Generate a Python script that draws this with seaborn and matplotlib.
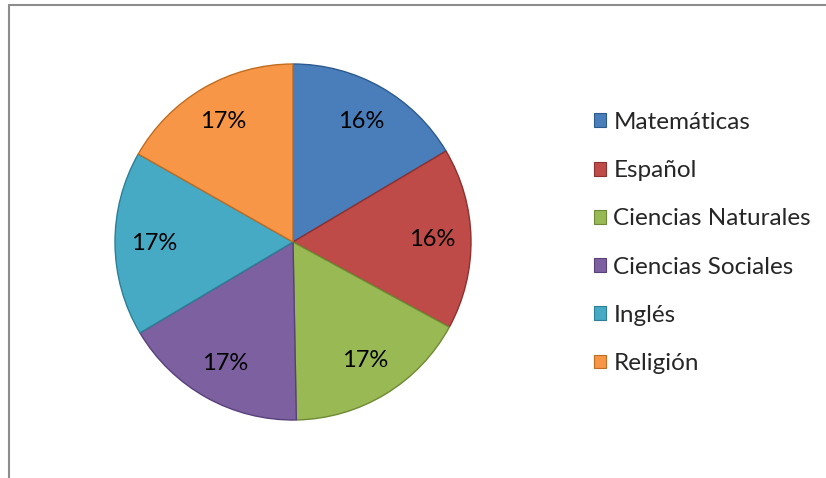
import matplotlib
matplotlib.use("Agg")
import matplotlib.pyplot as plt
from matplotlib.patches import Patch
from matplotlib.lines import Line2D
import seaborn as sns

materias = ["Matemáticas", "Español", "Ciencias Naturales",
            "Ciencias Sociales", "Inglés", "Religión"]
valores = [98.8, 98.8, 100.6, 100.6, 100.6, 100.6]
colores = ["#4A7EBB", "#BE4B48", "#98B954", "#7D60A0", "#46AAC5", "#F79646"]
bordes = ["#2C5A8E", "#8E302E", "#6F8A35", "#58417A", "#2C7F96", "#C06D22"]

sns.set_theme(style="white")
plt.rcParams['font.family'] = ['Lato', 'DejaVu Sans']

fig = plt.figure(figsize=(8.26, 4.78), dpi=100)
W, H = 826, 478
cx, cy, r = 293, 242, 178
ax = fig.add_axes([(cx - r) / W, (H - cy - r) / H, 2 * r / W, 2 * r / H])

wedges, texts, autotexts = ax.pie(valores, colors=colores, startangle=90,
                                  counterclock=False, autopct='%1.0f%%',
                                  pctdistance=0.78, radius=1.0,
                                  wedgeprops=dict(linewidth=1.0))
for w, b in zip(wedges, bordes):
    w.set_edgecolor(b)
for t in autotexts:
    t.set_fontsize(17)
    t.set_color("black")
ax.set_aspect("equal")
ax.set_xlim(-1.0, 1.0)
ax.set_ylim(-1.0, 1.0)
ax.axis("off")

# frame of the chart area (only top and left are visible)
fig.add_artist(Line2D([9 / W, 9 / W], [0, 1 - 5 / H], color="#8c8c8c", lw=1.5))
fig.add_artist(Line2D([9 / W, 1], [1 - 5 / H, 1 - 5 / H], color="#8c8c8c", lw=1.5))

handles = [Patch(facecolor=c, edgecolor=b, linewidth=0.8) for c, b in zip(colores, bordes)]
fig.legend(handles, materias, loc="upper left",
           bbox_to_anchor=(594 / W, 1 - 112 / H), frameon=False,
           fontsize=17.5, handlelength=0.5, handleheight=0.5,
           handletextpad=0.3, labelspacing=1.12, borderaxespad=0,
           borderpad=0)

fig.savefig("out.png", dpi=100)
